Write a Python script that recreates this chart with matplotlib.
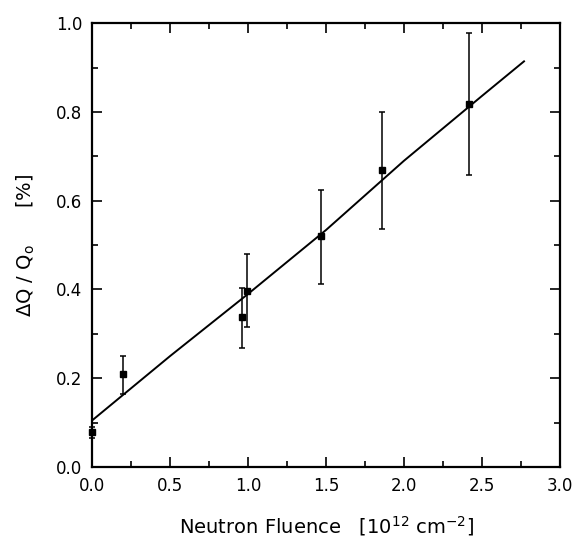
import matplotlib
matplotlib.use('Agg')
import matplotlib.pyplot as plt
import matplotlib.ticker as mticker

fluence = [0.0, 0.20, 0.96, 0.99, 1.47, 1.86, 2.42]
dq = [0.078, 0.21, 0.338, 0.397, 0.52, 0.669, 0.817]
err_lo = [0.012, 0.045, 0.07, 0.082, 0.108, 0.133, 0.159]
err_hi = [0.012, 0.04, 0.065, 0.083, 0.104, 0.131, 0.162]

# fit curve
fit_x = [0.0, 0.5, 1.0, 1.5, 2.0, 2.5, 2.77]
fit_y = [0.105, 0.25, 0.39, 0.534, 0.69, 0.836, 0.914]

plt.rcParams['font.family'] = ['DejaVu Sans']

fig = plt.figure(figsize=(5.76, 5.52), dpi=100)
ax = fig.add_axes([0.16, 0.154, 0.812, 0.804])

ax.plot(fit_x, fit_y, color='black', lw=1.4)
ax.errorbar(fluence, dq, yerr=[err_lo, err_hi], fmt='s', color='black',
            ms=5, elinewidth=1.1, capsize=2.5, capthick=1.1, clip_on=False)

ax.set_xlim(0, 3.0)
ax.set_ylim(0, 1.0)
ax.xaxis.set_major_locator(mticker.MultipleLocator(0.5))
ax.xaxis.set_minor_locator(mticker.MultipleLocator(0.25))
ax.yaxis.set_major_locator(mticker.MultipleLocator(0.2))
ax.yaxis.set_minor_locator(mticker.MultipleLocator(0.1))
ax.xaxis.set_major_formatter(mticker.FormatStrFormatter('%.1f'))
ax.yaxis.set_major_formatter(mticker.FormatStrFormatter('%.1f'))
ax.tick_params(which='both', direction='in', top=True, right=True, width=1.2)
ax.tick_params(which='major', length=7, labelsize=12, pad=7)
ax.tick_params(which='minor', length=4)
for s in ax.spines.values():
    s.set_linewidth(1.6)

ax.set_xlabel(r'Neutron Fluence   [10$^{12}$ cm$^{-2}$]', fontsize=14, labelpad=14)
ax.set_ylabel(r'$\Delta$Q / Q$_{\rm o}$      [%]', fontsize=14, labelpad=14)

fig.savefig('out.png', dpi=100)
